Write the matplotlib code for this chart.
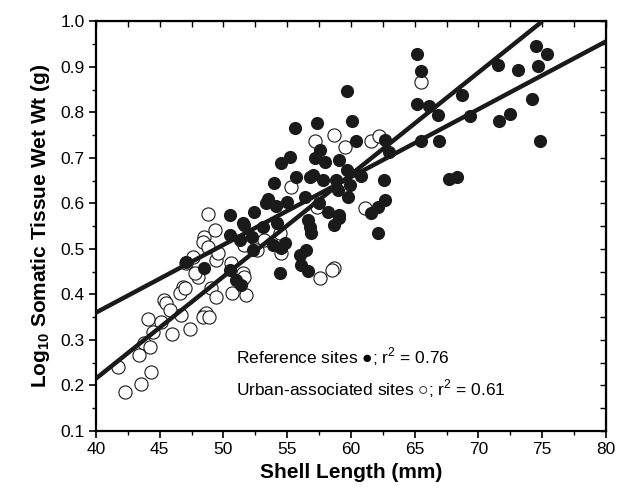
import matplotlib
matplotlib.use("Agg")
import matplotlib.pyplot as plt
from matplotlib.ticker import MultipleLocator

plt.rcParams["font.family"] = ["Liberation Sans", "DejaVu Sans"]
plt.rcParams["mathtext.fontset"] = "custom"
plt.rcParams["mathtext.rm"] = "Liberation Sans"
plt.rcParams["mathtext.bf"] = "Liberation Sans:bold"

# --- 参照サイト (黒丸) ---
ref_len = [65.2, 65.5, 65.2, 66.1, 66.8, 68.7, 71.5, 73.1, 74.5, 75.4, 74.7, 74.2,
           72.5, 71.6, 69.3, 74.8, 65.5, 66.9, 67.7, 68.3, 62.6, 62.7,
           59.7, 60.1, 60.4, 62.7, 63.0, 59.1, 59.7, 58.8, 59.9, 59.8, 61.6, 62.1,
           59.1, 58.7, 62.1, 55.6, 57.3, 57.6, 57.2, 55.2, 54.5, 55.7, 54.0, 56.8,
           57.8, 57.0, 59.0, 53.5, 55.0, 56.4, 52.4, 51.5, 53.1, 54.2, 56.8, 59.1,
           56.6, 56.9, 53.3, 54.1, 56.5, 54.8, 52.3, 56.1, 56.6, 54.4, 54.5, 56.0,
           53.9, 50.5, 50.5, 52.2, 51.6, 51.3, 48.5, 50.5, 51.4, 51.0, 47.1,
           58.0, 60.8, 57.5, 58.2]
ref_wt = [0.928, 0.890, 0.818, 0.814, 0.795, 0.838, 0.904, 0.893, 0.945, 0.929, 0.902, 0.830,
          0.796, 0.781, 0.791, 0.736, 0.736, 0.736, 0.653, 0.658, 0.652, 0.608,
          0.846, 0.780, 0.736, 0.740, 0.714, 0.696, 0.674, 0.652, 0.641, 0.615, 0.578, 0.593,
          0.567, 0.553, 0.535, 0.765, 0.776, 0.718, 0.699, 0.703, 0.688, 0.659, 0.644, 0.659,
          0.652, 0.663, 0.630, 0.610, 0.604, 0.615, 0.582, 0.556, 0.549, 0.556, 0.549, 0.575,
          0.564, 0.534, 0.600, 0.594, 0.498, 0.513, 0.498, 0.465, 0.451, 0.447, 0.501, 0.487,
          0.509, 0.575, 0.531, 0.527, 0.553, 0.520, 0.457, 0.454, 0.421, 0.432, 0.472,
          0.690, 0.660, 0.600, 0.580]

# --- 都市関連サイト (白丸) ---
urb_len = [65.5, 58.7, 59.5, 61.6, 62.2, 61.1, 58.7, 57.2, 55.3, 57.3, 53.2, 54.5,
           58.5, 57.6, 51.5, 48.8, 48.5, 49.3, 48.4, 54.4, 52.6, 51.6, 47.6, 49.4,
           50.6, 51.4, 51.6, 51.8, 50.7, 49.0, 49.4, 48.0, 48.5, 48.6, 48.4, 46.8,
           47.1, 47.8, 48.8, 49.6, 46.6, 47.0, 45.3, 45.5, 45.8, 46.7, 44.1, 45.1,
           46.0, 47.4, 44.5, 43.8, 44.2, 43.4, 41.7, 44.3, 43.5, 42.3, 48.9]
urb_wt = [0.866, 0.751, 0.725, 0.736, 0.747, 0.589, 0.458, 0.736, 0.637, 0.593, 0.520, 0.491,
          0.454, 0.436, 0.447, 0.577, 0.526, 0.542, 0.515, 0.535, 0.498, 0.509, 0.483, 0.475,
          0.468, 0.428, 0.439, 0.399, 0.403, 0.414, 0.395, 0.439, 0.355, 0.360, 0.350, 0.417,
          0.468, 0.446, 0.504, 0.490, 0.402, 0.414, 0.388, 0.381, 0.366, 0.355, 0.347, 0.339,
          0.314, 0.325, 0.318, 0.293, 0.285, 0.267, 0.241, 0.230, 0.204, 0.186, 0.351]

# 回帰直線の端点
fit1_x = [40, 80]
fit1_y = [0.36, 0.956]
fit2_x = [40, 75]
fit2_y = [0.215, 1.0]

fig = plt.figure(figsize=(6.19, 4.97), dpi=100)
ax = fig.add_axes([0.155, 0.133, 0.824, 0.824])

ax.scatter(urb_len, urb_wt, s=90, facecolors="white", edgecolors="#1a1a1a",
           linewidths=0.8, zorder=2)
ax.scatter(ref_len, ref_wt, s=90, color="#1a1a1a", linewidths=0, zorder=3)
ax.plot(fit1_x, fit1_y, color="#1a1a1a", linewidth=3.2, zorder=4, solid_capstyle="butt")
ax.plot(fit2_x, fit2_y, color="#1a1a1a", linewidth=3.2, zorder=4, solid_capstyle="butt")

ax.set_xlim(40, 80)
ax.set_ylim(0.1, 1.0)
ax.xaxis.set_major_locator(MultipleLocator(5))
ax.xaxis.set_minor_locator(MultipleLocator(2.5))
ax.yaxis.set_major_locator(MultipleLocator(0.1))
ax.yaxis.set_minor_locator(MultipleLocator(0.05))
ax.yaxis.set_major_formatter(matplotlib.ticker.FormatStrFormatter("%.1f"))
ax.tick_params(which="major", direction="out", length=5, width=1.2, labelsize=12.5, pad=3)
ax.tick_params(which="minor", direction="out", length=3, width=1.0)
for s in ax.spines.values():
    s.set_linewidth(1.6)

# 上・右の内向き目盛
top = ax.secondary_xaxis("top")
top.xaxis.set_major_locator(MultipleLocator(2.5))
top.tick_params(direction="in", length=4, width=1.0, labeltop=False)
right = ax.secondary_yaxis("right")
right.yaxis.set_major_locator(MultipleLocator(0.05))
right.tick_params(direction="in", length=4, width=1.0, labelright=False)

ax.set_xlabel("Shell Length (mm)", fontsize=15, fontweight="bold", labelpad=4)
ax.set_ylabel(r"Log$_{\mathbf{10}}$ Somatic Tissue Wet Wt (g)", fontsize=15,
              fontweight="bold", labelpad=6)

ax.text(51.0, 0.263, "Reference sites \u25cf; r$^2$ = 0.76", fontsize=12.5,
        va="center", ha="left")
ax.text(51.0, 0.192, "Urban-associated sites \u25cb; r$^2$ = 0.61", fontsize=12.5,
        va="center", ha="left")

fig.savefig("out.png", dpi=100)
